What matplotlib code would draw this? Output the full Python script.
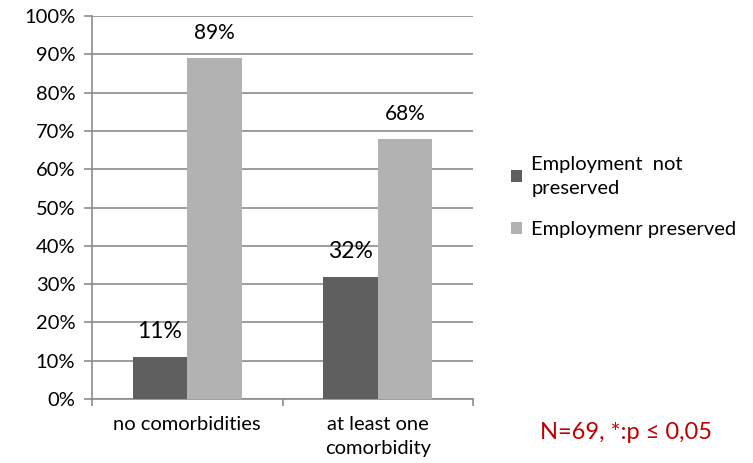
import numpy as np
import matplotlib.pyplot as plt
from matplotlib.ticker import PercentFormatter

plt.rcParams['font.family'] = ['Lato', 'DejaVu Sans']

categories = ['no comorbidities', 'at least one\ncomorbidity']
not_preserved = [11, 32]
preserved = [89, 68]
series_names = ['Employment  not\npreserved', 'Employmenr preserved']

fig = plt.figure(figsize=(7.53, 4.63), dpi=100)
ax = fig.add_axes([0.1222, 0.138, 0.506, 0.8274])

x = np.arange(len(categories))
w = 0.287
b1 = ax.bar(x - w / 2, not_preserved, w, color='#5f5f5f', label=series_names[0], zorder=3)
b2 = ax.bar(x + w / 2, preserved, w, color='#b2b2b2', label=series_names[1], zorder=3)

for r, v in zip(b1, not_preserved):
    ax.annotate(f'{v}%', (r.get_x() + r.get_width() / 2, v), xytext=(0, 18),
                textcoords='offset points', ha='center', va='center', fontsize=16.5)
for r, v in zip(b2, preserved):
    ax.annotate(f'{v}%', (r.get_x() + r.get_width() / 2, v), xytext=(0, 18),
                textcoords='offset points', ha='center', va='center', fontsize=15)

ax.set_ylim(0, 100)
ax.set_xlim(-0.5, 1.5)
ax.set_yticks(range(0, 101, 10))
ax.yaxis.set_major_formatter(PercentFormatter(decimals=0))
ax.yaxis.grid(True, color='#8c8c8c', linewidth=1.2, zorder=0)
ax.set_axisbelow(True)

ax.set_xticks(x)
ax.set_xticklabels(categories, fontsize=14.5, linespacing=1.55)
ax.set_xticks([-0.5, 0.5, 1.5], minor=True)
ax.tick_params(axis='x', which='major', length=0, pad=12)
ax.tick_params(axis='x', which='minor', length=5, color='#8c8c8c', width=1.2)
ax.tick_params(axis='y', length=6, color='#8c8c8c', width=1.2, labelsize=14.5, pad=6)

for s in ['top', 'right']:
    ax.spines[s].set_visible(False)
for s in ['left', 'bottom']:
    ax.spines[s].set_color('#8c8c8c')
    ax.spines[s].set_linewidth(1.2)

leg = fig.legend(loc='center left', bbox_to_anchor=(0.655, 0.575), frameon=False,
                 fontsize=14.5, handlelength=0.55, handleheight=0.55, handletextpad=0.45,
                 labelspacing=1.2)
for t in leg.get_texts():
    t.set_linespacing(1.5)

fig.text(0.831, 0.065, 'N=69, *:p ≤ 0,05', color='#c00000', fontsize=17,
         ha='center', va='center')

fig.savefig('out.png', dpi=100)
